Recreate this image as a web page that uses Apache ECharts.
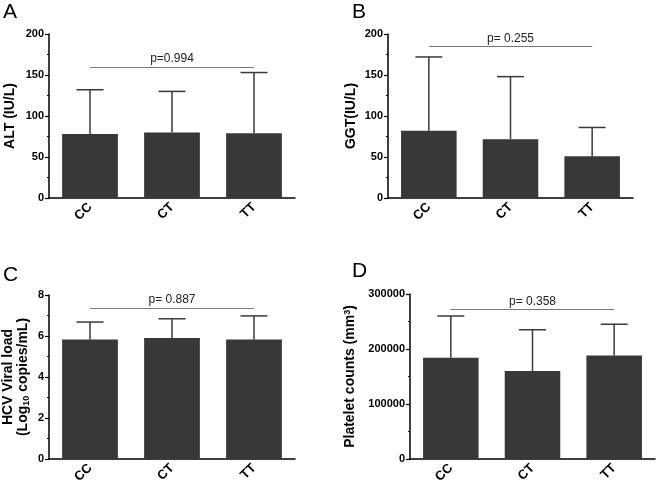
<!DOCTYPE html>
<html><head><meta charset="utf-8">
<script src="https://cdn.jsdelivr.net/npm/echarts@6/dist/echarts.min.js"></script>
<style>html,body{margin:0;padding:0;background:#fff}#c{width:660px;height:481px}</style>
</head><body><div id="c"></div>
<script>
var categories = ['CC', 'CT', 'TT'];
var altMean = [78, 80, 79];
var altErr = [132, 130, 153];
var ggtMean = [82, 71.5, 51];
var ggtErr = [172, 148, 86];
var hcvMean = [5.83, 5.9, 5.83];
var hcvErr = [6.68, 6.84, 6.98];
var pltMean = [184000, 160000, 188000];
var pltErr = [260000, 235000, 245000];
var pLabels = ['p=0.994', 'p= 0.255', 'p= 0.887', 'p= 0.358'];
var pLevels = [160, 185, 7.37, 272000];
var yMax = [200, 200, 8, 300000];
var yInterval = [50, 50, 2, 100000];
var yNames = ['ALT (IU/L)', 'GGT(IU/L)', '{b|HCV Viral load}\n{b|(Log}{s|10}{b| copies/mL)}', '{b|Platelet counts (mm}{u|3}{b|)}'];
var panelLetters = ['A', 'B', 'C', 'D'];

var means = [altMean, ggtMean, hcvMean, pltMean];
var errs = [altErr, ggtErr, hcvErr, pltErr];
var grids = [
  {left: 49, top: 34, width: 246, height: 164},
  {left: 388, top: 34, width: 245, height: 164},
  {left: 49, top: 295, width: 246, height: 164},
  {left: 410, top: 294, width: 245, height: 165}
];
var nameGaps = [32, 30, 18, 52];
var letterPos = [[3, 2], [352, 2], [3, 265], [352, 261]];
var FONT = '"Liberation Sans", Arial, sans-serif';

var option = {animation: false, grid: [], xAxis: [], yAxis: [], series: [], graphic: []};
for (var i = 0; i < 4; i++) {
  var g = grids[i];
  option.grid.push({left: g.left, top: g.top, width: g.width, height: g.height,
    containLabel: false, outerBoundsMode: 'none'});
  option.xAxis.push({
    type: 'category', gridIndex: i, data: categories,
    axisLine: {lineStyle: {color: '#000', width: 1.5}},
    axisTick: {alignWithLabel: true, length: 4, lineStyle: {color: '#000', width: 1.2}},
    axisLabel: {rotate: 45, margin: 7, color: '#000', fontWeight: 'bold', fontSize: 13, fontFamily: FONT}
  });
  option.yAxis.push({
    type: 'value', gridIndex: i, min: 0, max: yMax[i], interval: yInterval[i],
    name: yNames[i], nameLocation: 'middle', nameGap: nameGaps[i],
    nameTextStyle: {color: '#000', fontWeight: 'bold', fontSize: 14, fontFamily: FONT,
      rich: {
        b: {fontWeight: 'bold', fontSize: 14, fontFamily: FONT, color: '#000', lineHeight: 15},
        s: {fontWeight: 'bold', fontSize: 9, fontFamily: FONT, color: '#000', verticalAlign: 'bottom', lineHeight: 15, padding: [5, 0, 0, 0]},
        u: {fontWeight: 'bold', fontSize: 9, fontFamily: FONT, color: '#000', verticalAlign: 'top', lineHeight: 15, padding: [0, 0, 5, 0]}
      }},
    splitLine: {show: false},
    axisLine: {show: true, lineStyle: {color: '#000', width: 1.5}},
    axisTick: {show: true, length: 4, lineStyle: {color: '#000', width: 1.2}},
    minorTick: {show: true, splitNumber: 2, length: 2, lineStyle: {color: '#000', width: 1}},
    axisLabel: {color: '#000', fontWeight: 'bold', fontSize: 11, fontFamily: FONT, margin: 5,
      formatter: function (v) { return String(v); }}
  });
  option.series.push({
    type: 'bar', xAxisIndex: i, yAxisIndex: i, data: means[i], barWidth: '68%',
    itemStyle: {color: '#383838'}, silent: true, z: 2,
    markLine: {
      silent: true, symbol: 'none',
      lineStyle: {color: '#777', width: 1, type: 'solid'},
      label: {show: true, position: 'middle', formatter: pLabels[i], distance: 2,
        color: '#222', fontSize: 12, fontFamily: FONT},
      data: [[{coord: [0, pLevels[i]]}, {coord: [2, pLevels[i]]}]]
    }
  });
  var ed = [];
  for (var k = 0; k < 3; k++) ed.push([k, means[i][k], errs[i][k]]);
  option.series.push({
    type: 'custom', xAxisIndex: i, yAxisIndex: i, data: ed, silent: true, z: 3,
    renderItem: function (params, api) {
      var x = api.value(0);
      var p0 = api.coord([x, api.value(1)]);
      var p1 = api.coord([x, api.value(2)]);
      var cw = api.size([1, 0])[0] * 0.33 / 2;
      var st = {stroke: '#3a3a3a', lineWidth: 1.5};
      return {type: 'group', children: [
        {type: 'line', shape: {x1: p0[0], y1: p0[1], x2: p1[0], y2: p1[1]}, style: st},
        {type: 'line', shape: {x1: p1[0] - cw, y1: p1[1], x2: p1[0] + cw, y2: p1[1]}, style: st}
      ]};
    }
  });
  option.graphic.push({type: 'text', left: letterPos[i][0], top: letterPos[i][1],
    style: {text: panelLetters[i], fontSize: 21, fontFamily: FONT, fill: '#000'}});
}
echarts.init(document.getElementById('c')).setOption(option);
</script></body></html>
